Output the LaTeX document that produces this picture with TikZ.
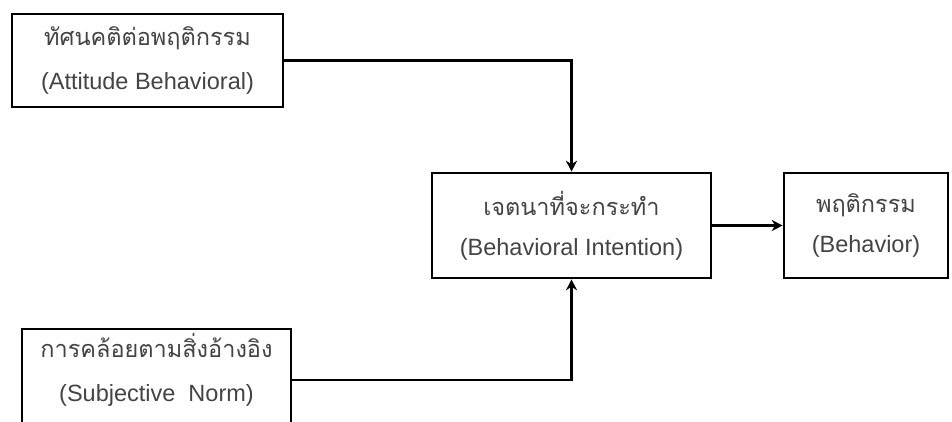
\documentclass[tikz,border=0pt]{standalone}
\usepackage{fontspec}
\setmainfont{Liberation Sans}
\newfontfamily\thai[Script=Thai]{Loma}
\usetikzlibrary{arrows.meta}
\definecolor{labelgray}{RGB}{68,68,68}
\tikzset{
  box/.style={draw=black, line width=2.6pt, fill=white, align=center,
    text=labelgray, font=\fontsize{23.5}{40}\selectfont, inner sep=0pt},
  widegap/.style={font=\fontsize{23.5}{44}\selectfont},
  link/.style={draw=black, line width=2.2pt,
    -{Stealth[length=11pt,width=11pt]}},
}
\begin{document}
\begin{tikzpicture}[x=1pt,y=-1pt]
\useasboundingbox (0,0) rectangle (952,421);
\clip (0,0) rectangle (952,421);
\fill[white] (0,0) rectangle (952,421);
% boxes
\node[box, widegap, minimum width=271pt, minimum height=93pt] (att) at (147.5,60.5)
  {{\thai ทัศนคติต่อพฤติกรรม}\\(Attitude Behavioral)};
\node[box, minimum width=279pt, minimum height=105pt] (bi) at (571.5,225.5)
  {{\thai เจตนาที่จะกระทำ}\\(Behavioral Intention)};
\node[box, minimum width=164pt, minimum height=105pt] (beh) at (866,225.5)
  {{\thai พฤติกรรม}\\(Behavior)};
% lower box runs past the bottom edge; its text sits high inside it
\node[box, widegap, minimum width=269pt, minimum height=102pt, text depth=26pt]
  (sn) at (156.5,380)
  {{\thai การคล้อยตามสิ่งอ้างอิง}\\(Subjective~~Norm)};
% connectors
\draw[link] (att.east) -| (bi.north);
\draw[link] (sn.east) -| (bi.south);
\draw[link] (bi.east) -- (beh.west);
\end{tikzpicture}
\end{document}
